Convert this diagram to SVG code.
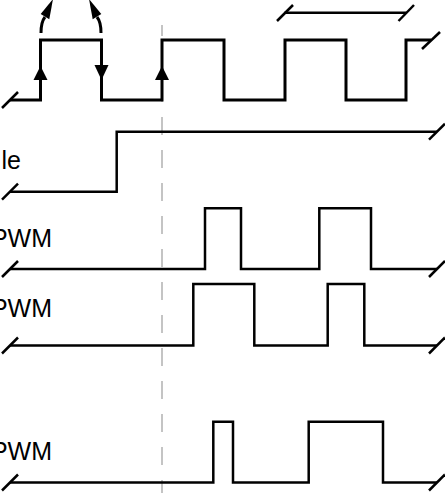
<svg xmlns="http://www.w3.org/2000/svg" width="445" height="493" viewBox="0 0 445 493">
<style>
.sig{fill:none;stroke:#000;stroke-width:2.5;stroke-linejoin:miter;stroke-linecap:butt}
.clk{stroke-width:3}
.brk{stroke:#000;stroke-width:2.5;fill:none}
.lbl{font-family:"Liberation Sans",Arial,sans-serif;font-size:25px;fill:#000;text-anchor:end}
.head{fill:#000;stroke:none}
.guide{stroke:#c4c4c4;stroke-width:2;stroke-dasharray:18 15;fill:none}
</style>
<rect width="445" height="493" fill="#fff"/>
<g id="guide">
<line class="guide" x1="162" y1="25" x2="162" y2="493" stroke-dashoffset="7"/>
</g>
<g id="clock">
<polyline class="sig clk" points="10,100 40.5,100 40.5,40 101.5,40 101.5,100 162,100 162,40 224,40 224,100 285,100 285,40 346,40 346,100 406,100 406,40 431,40"/>
<line class="brk" x1="2" y1="108" x2="18" y2="92"/>
<line class="brk" x1="422" y1="49" x2="440" y2="32"/>
<polygon class="head" points="40.5,66 33.5,80 47.5,80"/>
<polygon class="head" points="101.5,80 94.5,65 108.5,65"/>
<polygon class="head" points="162,66 155,80 169,80"/>
</g>
<g id="edge-arrows">
<path class="sig clk" d="M41,33 Q41,22 45,17"/>
<polygon class="head" points="40.7,14 53,-1 49.3,19.3"/>
<path class="sig clk" d="M101,33 Q101,22 97,17"/>
<polygon class="head" points="101.3,14 89,-1 92.7,19.3"/>
</g>
<g id="period">
<line class="brk" x1="284.5" y1="12.7" x2="406.5" y2="12.7" stroke-width="2"/>
<line class="brk" x1="277" y1="21" x2="293" y2="5"/>
<line class="brk" x1="398.5" y1="21" x2="414" y2="5"/>
</g>
<g id="enable">
<text class="lbl" x="21" y="168.5">le</text>
<polyline class="sig" points="10,191.7 116.7,191.7 116.7,131.7 437,131.7"/>
<line class="brk" x1="2" y1="199.7" x2="18" y2="183.7"/>
<line class="brk" x1="429" y1="139.7" x2="445" y2="123.7"/>
</g>
<g id="pwm1">
<text class="lbl" x="52" y="247">PWM</text>
<polyline class="sig" points="10,269 205,269 205,208.3 241,208.3 241,269 319.3,269 319.3,208.3 371,208.3 371,269 437,269"/>
<line class="brk" x1="2" y1="277" x2="18" y2="261"/>
<line class="brk" x1="429" y1="277" x2="445" y2="261"/>
</g>
<g id="pwm2">
<text class="lbl" x="52" y="317">PWM</text>
<polyline class="sig" points="10,345.5 193.3,345.5 193.3,284 254.3,284 254.3,345.5 327.7,345.5 327.7,284 364.3,284 364.3,345.5 437,345.5"/>
<line class="brk" x1="2" y1="353.5" x2="18" y2="337.5"/>
<line class="brk" x1="429" y1="353.5" x2="445" y2="337.5"/>
</g>
<g id="pwm3">
<text class="lbl" x="52" y="460">PWM</text>
<polyline class="sig" points="10,482.5 213.3,482.5 213.3,421.7 233,421.7 233,482.5 308.7,482.5 308.7,421.7 383,421.7 383,482.5 437,482.5"/>
<line class="brk" x1="2" y1="490.5" x2="18" y2="474.5"/>
<line class="brk" x1="429" y1="490.5" x2="445" y2="474.5"/>
</g>
</svg>
